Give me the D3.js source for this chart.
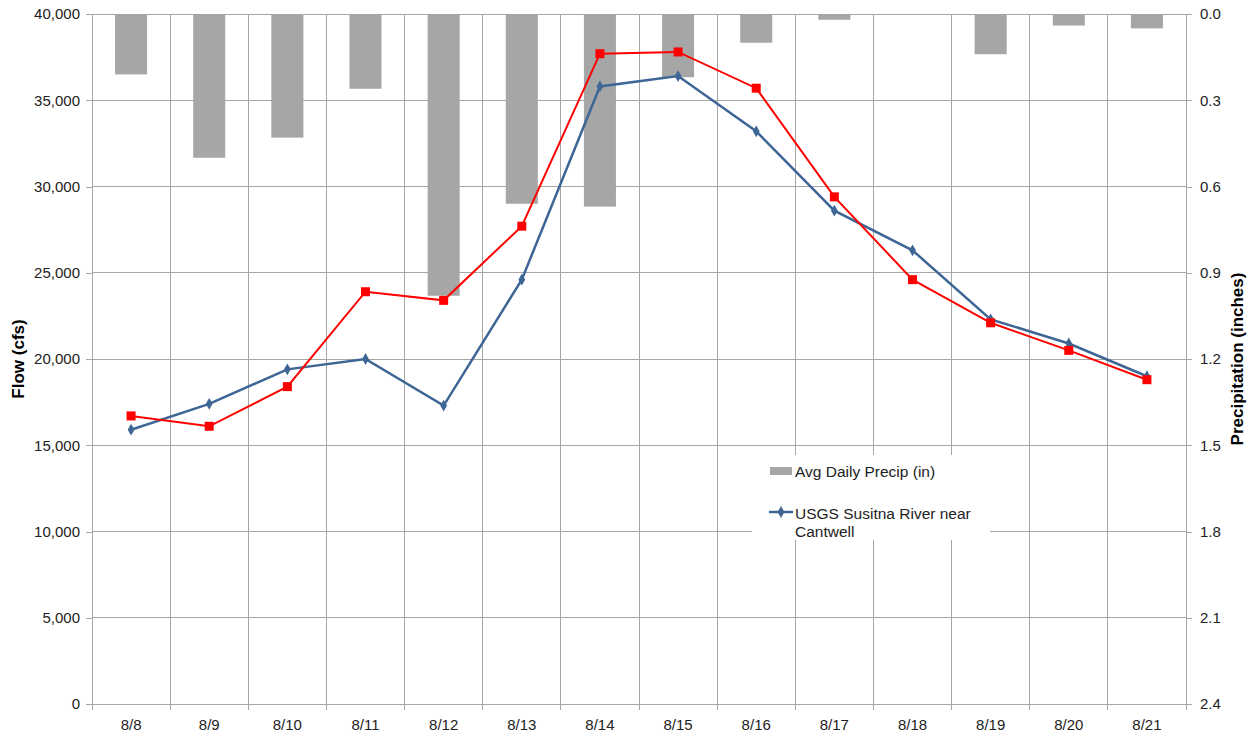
<!DOCTYPE html>
<html><head><meta charset="utf-8">
<script src="https://cdn.jsdelivr.net/npm/d3@7"></script>
<style>body{margin:0;background:#fff}svg text{font-family:"Liberation Sans",Arial,sans-serif}</style>
</head><body>
<svg id="c" width="1252" height="736"></svg>
<script>
const dates = ["8/8","8/9","8/10","8/11","8/12","8/13","8/14","8/15","8/16","8/17","8/18","8/19","8/20","8/21"];
const precip = [0.21,0.50,0.43,0.26,0.98,0.66,0.67,0.22,0.10,0.02,0,0.14,0.04,0.05];
const usgsFlow = [15900,17400,19400,20000,17300,24600,35800,36400,33200,28600,26300,22300,20900,19000];
const modelFlow = [16700,16100,18400,23900,23400,27700,37700,37800,35700,29400,24600,22100,20500,18800];
const flowTicks = [0,5000,10000,15000,20000,25000,30000,35000,40000];
const precipTicks = [0,0.3,0.6,0.9,1.2,1.5,1.8,2.1,2.4];

const L=92,R=1186,T=14,B=704;
const svg=d3.select("#c");
const x=d3.scaleBand().domain(dates).range([L,R]);
const y=d3.scaleLinear().domain([0,40000]).range([B,T]);
const yp=d3.scaleLinear().domain([0,2.4]).range([T,B]);
const grid="#a6a6a6";
const fs=15;

// gridlines
svg.append("g").selectAll("line").data(flowTicks).join("line")
 .attr("x1",L).attr("x2",R).attr("y1",d=>y(d)).attr("y2",d=>y(d)).attr("stroke",grid).attr("stroke-width",1).attr("shape-rendering","crispEdges");
svg.append("g").selectAll("line").data(dates.slice(1)).join("line")
 .attr("x1",d=>x(d)).attr("x2",d=>x(d)).attr("y1",T).attr("y2",B).attr("stroke",grid).attr("shape-rendering","crispEdges");

// bars
const bw=x.bandwidth()*0.41;
svg.append("g").selectAll("rect").data(dates).join("rect")
 .attr("x",d=>x(d)+x.bandwidth()/2-bw/2).attr("width",bw)
 .attr("y",yp(0)).attr("height",(d,i)=>yp(precip[i])-yp(0)).attr("fill","#a6a6a6");

// axes
const fmt=d3.format(",");
const ax=svg.append("g").attr("transform",`translate(${L},0)`).call(d3.axisLeft(y).tickValues(flowTicks).tickFormat(fmt).tickSizeOuter(0).tickSize(6).tickPadding(6));
const axr=svg.append("g").attr("transform",`translate(${R},0)`).call(d3.axisRight(yp).tickValues(precipTicks).tickFormat(d3.format(".1f")).tickSizeOuter(0).tickSize(6).tickPadding(8));
const axb=svg.append("g").attr("transform",`translate(0,${B})`).call(d3.axisBottom(x).tickSize(0).tickPadding(15));
svg.append("g").selectAll("line").data(dates.concat(["end"])).join("line")
 .attr("x1",(d,i)=>L+i*x.step()).attr("x2",(d,i)=>L+i*x.step()).attr("y1",B).attr("y2",B+6).attr("stroke",grid).attr("shape-rendering","crispEdges");
[ax,axr,axb].forEach(a=>{a.selectAll("path,line").attr("stroke",grid).attr("shape-rendering","crispEdges");a.selectAll("text").attr("font-size",fs).attr("fill","#222").attr("font-family","Liberation Sans, Arial, sans-serif");});

// titles
svg.append("text").attr("transform",`translate(24,${(T+B)/2}) rotate(-90)`).attr("text-anchor","middle").attr("font-weight","bold").attr("font-size",17).text("Flow (cfs)");
svg.append("text").attr("transform",`translate(1243,${(T+B)/2}) rotate(-90)`).attr("text-anchor","middle").attr("font-weight","bold").attr("font-size",17).text("Precipitation (inches)");

// lines
const cx=d=>x(d)+x.bandwidth()/2;
function series(vals,color,shape){
 const g=svg.append("g");
 g.append("path").datum(vals).attr("fill","none").attr("stroke",color).attr("stroke-width",color==="#ff0000"?2:2.5)
  .attr("d",d3.line().x((v,i)=>cx(dates[i])).y(v=>y(v)));
 if(shape==="square"){
  g.selectAll("rect").data(vals).join("rect").attr("x",(v,i)=>cx(dates[i])-4.5).attr("y",v=>y(v)-4.5).attr("width",9).attr("height",9).attr("fill",color);
 } else {
  g.selectAll("path.m").data(vals).join("path").attr("class","m").attr("d",d3.symbol(d3.symbolDiamond,40))
   .attr("transform",(v,i)=>`translate(${cx(dates[i])},${y(v)})`).attr("fill",color);
 }
}
series(usgsFlow,"#3e6695","diamond");
series(modelFlow,"#ff0000","square");

// legend
const lg=svg.append("g");
lg.append("rect").attr("x",752).attr("y",455).attr("width",238).attr("height",85).attr("fill","#fff");
lg.append("rect").attr("x",770).attr("y",467).attr("width",22).attr("height",8).attr("fill","#a6a6a6");
lg.append("text").attr("x",795).attr("y",477).attr("font-size",15.5).attr("fill","#222").text("Avg Daily Precip (in)");
lg.append("line").attr("x1",769).attr("x2",793).attr("y1",512).attr("y2",512).attr("stroke","#3e6695").attr("stroke-width",2.5);
lg.append("path").attr("d",d3.symbol(d3.symbolDiamond,40)).attr("transform","translate(781,512)").attr("fill","#3e6695");
lg.append("text").attr("x",795).attr("y",519).attr("font-size",15.5).attr("fill","#222").text("USGS Susitna River near");
lg.append("text").attr("x",795).attr("y",537).attr("font-size",15.5).attr("fill","#222").text("Cantwell");
</script>
</body></html>
